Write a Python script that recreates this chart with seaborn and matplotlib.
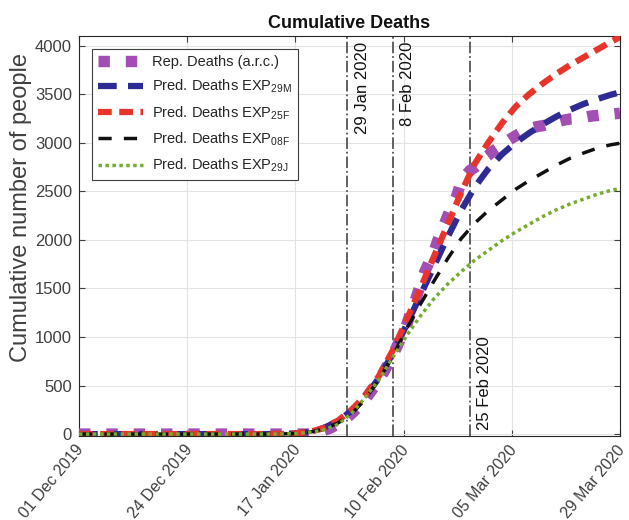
import numpy as np
import pandas as pd
import matplotlib
matplotlib.use("Agg")
import matplotlib.pyplot as plt
from matplotlib.transforms import ScaledTranslation
import seaborn as sns

# ---------------- data ----------------
# x axis: days since 01 Dec 2019 (day 0) .. 29 Mar 2020 (day 119)
xtick_labels = ["01 Dec 2019", "24 Dec 2019", "17 Jan 2020",
                "10 Feb 2020", "05 Mar 2020", "29 Mar 2020"]
x_start, x_end = 0, 119

# reported cumulative deaths, daily from 01 Dec 2019
rep_before = [0] * 52  # 01 Dec 2019 .. 21 Jan 2020
rep_jan = [17, 25, 41, 56, 80, 106, 132, 170, 213, 259]
rep_feb = [304, 361, 425, 490, 562, 636, 722, 811, 908, 1016, 1113, 1259,
           1380, 1523, 1665, 1770, 1868, 2004, 2118, 2236, 2345, 2442, 2592,
           2663, 2715, 2744, 2788, 2835, 2870]
rep_mar = [2912, 2943, 2981, 3012, 3042, 3070, 3097, 3119, 3136, 3158, 3169,
           3176, 3189, 3199, 3213, 3226, 3237, 3245, 3248, 3255, 3261, 3270,
           3277, 3281, 3287, 3292, 3295, 3300, 3304]
reported = rep_before + rep_jan + rep_feb + rep_mar
rep_days = list(range(len(reported)))

# predicted curves
pred_days = [0, 42, 45, 48, 51, 54, 57, 60, 63, 66, 69, 72, 75, 78, 81, 84,
             87, 90, 93, 96, 99, 102, 105, 108, 111, 114, 117, 119]
pred_29M = [0, 0, 2, 8, 25, 65, 135, 240, 385, 580, 830, 1120, 1420, 1720,
            2020, 2300, 2540, 2730, 2880, 3000, 3100, 3190, 3270, 3340, 3400,
            3450, 3495, 3520]
pred_25F = [0, 0, 2, 8, 25, 65, 140, 250, 400, 600, 860, 1170, 1490, 1820,
            2150, 2480, 2780, 3000, 3200, 3370, 3500, 3610, 3710, 3800, 3880,
            3960, 4040, 4090]
pred_08F = [0, 0, 2, 7, 22, 55, 115, 210, 360, 570, 800, 1080, 1330, 1570,
            1800, 2010, 2170, 2300, 2410, 2520, 2610, 2690, 2770, 2840, 2895,
            2945, 2980, 2995]
pred_29J = [0, 0, 2, 6, 18, 45, 100, 215, 380, 560, 790, 1010, 1210, 1390,
            1540, 1670, 1790, 1890, 1990, 2080, 2160, 2240, 2310, 2370, 2420,
            2470, 2510, 2530]

# vertical reference dates
vline_days = [59, 69, 86]
vline_labels = ["29 Jan 2020", "8 Feb 2020", "25 Feb 2020"]

# ---------------- style ----------------
sns.set_theme(style="whitegrid")
plt.rcParams["font.family"] = ["Liberation Sans", "DejaVu Sans"]
plt.rcParams["mathtext.fontset"] = "custom"
plt.rcParams["mathtext.rm"] = "Liberation Sans"
plt.rcParams["mathtext.it"] = "Liberation Sans:italic"

fig = plt.figure(figsize=(6.29, 5.20), dpi=100)
ax = fig.add_axes([0.1256, 0.1615, 0.8601, 0.7693])
ax.set_facecolor("white")

df_rep = pd.DataFrame({"day": rep_days, "deaths": reported})
df_pred = pd.DataFrame({"day": pred_days, "m29": pred_29M, "f25": pred_25F,
                        "f08": pred_08F, "j29": pred_29J})

sns.lineplot(data=df_rep, x="day", y="deaths", ax=ax, color="#A24EB2",
             linewidth=8.2, linestyle=(0, (1, 1.4)), dash_capstyle="butt",
             label="Rep. Deaths (a.r.c.)", zorder=3)
sns.lineplot(data=df_pred, x="day", y="m29", ax=ax, color="#2E2C94",
             linewidth=4.5, linestyle=(0, (3, 1.8)), dash_capstyle="butt",
             label=r"Pred. Deaths EXP$_{\mathrm{29M}}$", zorder=4)
sns.lineplot(data=df_pred, x="day", y="f25", ax=ax, color="#E9342B",
             linewidth=4.5, linestyle=(0, (2.2, 1.2)), dash_capstyle="butt",
             label=r"Pred. Deaths EXP$_{\mathrm{25F}}$", zorder=4)
sns.lineplot(data=df_pred, x="day", y="f08", ax=ax, color="#111111",
             linewidth=2.5, linestyle=(0, (3.8, 3.5)), dash_capstyle="butt",
             label=r"Pred. Deaths EXP$_{\mathrm{08F}}$", zorder=4)
sns.lineplot(data=df_pred, x="day", y="j29", ax=ax, color="#77AC30",
             linewidth=2.5, linestyle=(0, (1, 1)), dash_capstyle="butt",
             label=r"Pred. Deaths EXP$_{\mathrm{29J}}$", zorder=4)

# vertical date markers
for d in vline_days:
    ax.axvline(d, color="#555555", linestyle="-.", linewidth=1.3, zorder=2)
ax.text(vline_days[0] + 1.6, 4040, vline_labels[0], rotation=90,
        ha="left", va="top", fontsize=12, color="#111111")
ax.text(vline_days[1] + 1.6, 4040, vline_labels[1], rotation=90,
        ha="left", va="top", fontsize=12, color="#111111")
ax.text(vline_days[2] + 1.6, 40, vline_labels[2], rotation=90,
        ha="left", va="bottom", fontsize=12, color="#111111")

# axes
ax.set_xlim(x_start, x_end)
ax.set_ylim(-20, 4100)
ax.set_xticks(np.linspace(x_start, x_end, len(xtick_labels)))
ax.set_xticklabels(xtick_labels, rotation=50, ha="right", va="center",
                   rotation_mode="anchor", fontsize=11.5)
ax.set_yticks(np.arange(0, 4001, 500))
ax.tick_params(axis="both", direction="in", length=4, width=0.8,
               colors="#404040", labelsize=12, pad=5,
               top=True, right=True, bottom=True, left=True)
ax.tick_params(axis="x", labelsize=11.5, pad=8)
offset = ScaledTranslation(1.5 / 72, 0, fig.dpi_scale_trans)
for lab in ax.get_xticklabels():
    lab.set_transform(lab.get_transform() + offset)
ax.grid(True, color="#E3E3E3", linewidth=0.8)
for s in ax.spines.values():
    s.set_visible(True)
    s.set_color("#262626")
    s.set_linewidth(0.8)

ax.set_xlabel("")
ax.set_ylabel("Cumulative number of people", fontsize=17, color="#404040")
ax.yaxis.set_label_coords(-0.086, 0.572)
ax.set_title("Cumulative Deaths", fontsize=13, fontweight="bold",
             color="#111111", pad=6)

leg = ax.legend(loc="upper left", bbox_to_anchor=(0.024, 0.968),
                borderaxespad=0, fontsize=10.5, handlelength=3.1,
                labelspacing=0.62, frameon=True, fancybox=False,
                framealpha=1, edgecolor="#404040", borderpad=0.4,
                handletextpad=0.6)
leg.get_frame().set_linewidth(0.8)
for t in leg.get_texts():
    t.set_color("#262626")

fig.savefig("out.png", dpi=100)
